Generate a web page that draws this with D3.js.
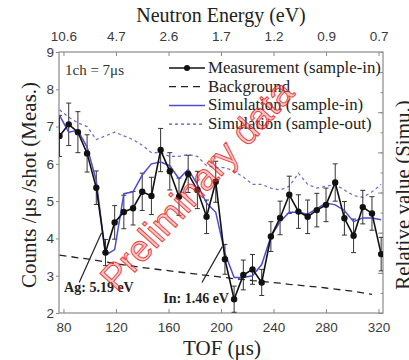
<!DOCTYPE html>
<html>
<head>
<meta charset="utf-8">
<script src="https://cdn.jsdelivr.net/npm/d3@7/dist/d3.min.js"></script>
<style>
  html, body { margin: 0; padding: 0; background: #fff; }
  svg { display: block; }
</style>
</head>
<body>
<svg id="chart" width="409" height="360"></svg>
<script>
// Time-of-flight channels (1 ch = 7 μs)
const tof = [77, 84, 91, 98, 105, 112, 119, 126, 133, 140, 147, 154, 161, 168, 175, 182, 189, 196,
             203, 210, 217, 224, 231, 238, 245, 252, 259, 266, 273, 280, 287, 294, 301, 308, 315, 322];

// Measured counts per μs per shot (sample-in) and their uncertainties
const measured = [6.75, 7.06, 6.85, 6.28, 5.36, 3.62, 4.43, 4.71, 4.81, 5.25, 5.14, 6.37, 5.80, 5.12, 5.73, 5.30, 4.58, 5.52,
                  3.44, 2.37, 3.02, 3.17, 2.82, 4.05, 4.55, 5.17, 4.72, 4.58, 4.76, 4.90, 5.50, 4.54, 4.07, 4.84, 4.67, 3.58];
const measErr  = [0.55, 0.57, 0.55, 0.50, 0.45, 0.35, 0.45, 0.45, 0.45, 0.50, 0.50, 0.58, 0.50, 0.50, 0.50, 0.50, 0.45, 0.55,
                  0.40, 0.35, 0.40, 0.40, 0.35, 0.40, 0.45, 0.50, 0.45, 0.45, 0.45, 0.45, 0.50, 0.45, 0.45, 0.45, 0.45, 0.45];

// Background estimate
const background = [3.55, 3.52, 3.48, 3.45, 3.41, 3.37, 3.33, 3.29, 3.26, 3.22, 3.19, 3.16, 3.13, 3.10, 3.07, 3.04, 3.01, 2.98,
                    2.95, 2.92, 2.90, 2.87, 2.85, 2.82, 2.80, 2.77, 2.75, 2.72, 2.70, 2.67, 2.64, 2.61, 2.58, 2.54, 2.50];

// Simulated spectra
const simIn  = [7.30, 6.85, 6.90, 6.45, 5.55, 3.55, 3.70, 5.20, 5.25, 5.70, 6.00, 6.05, 5.95, 5.60, 5.85, 5.45, 4.95, 4.70,
                3.60, 2.95, 2.95, 3.00, 3.30, 4.05, 4.45, 4.70, 4.70, 4.65, 4.80, 4.95, 4.90, 4.75, 4.45, 4.55, 4.55, 4.50];
const simOut = [7.45, 7.25, 7.10, 7.00, 6.65, 6.75, 6.85, 6.75, 6.65, 6.50, 6.30, 6.30, 6.20, 6.20, 6.25, 6.20, 5.95, 5.90,
                5.90, 5.80, 5.65, 5.45, 5.45, 5.35, 5.30, 5.40, 5.75, 5.45, 5.35, 5.40, 5.45, 5.30, 5.15, 5.10, 5.25, 5.45];

// Axis ticks
const tofTicks = [80, 120, 160, 200, 240, 280, 320];
const energyLabels = ["10.6", "4.7", "2.6", "1.7", "1.2", "0.9", "0.7"];
const countTicks = [2, 3, 4, 5, 6, 7, 8, 9];

// Resonance annotations: label position and pointer line (μs, counts)
const resonances = [
  { label: "Ag: 5.19 eV", tx: 80.5, ty: 2.55, from: [92, 2.82], to: [109, 4.15] },
  { label: "In: 1.46 eV", tx: 156, ty: 2.28, from: [185.5, 2.82], to: [201, 3.78] }
];

const legendItems = [
  { label: "Measurement (sample-in)", kind: "meas" },
  { label: "Background", kind: "bg" },
  { label: "Simulation (sample-in)", kind: "simIn" },
  { label: "Simulation (sample-out)", kind: "simOut" }
];

const serif = "'Liberation Serif', 'Times New Roman', Times, serif";
const sans = "'Liberation Sans', Arial, Helvetica, sans-serif";
const blue = "#4d4dd2";
const frame = "#8a8a8a";

const svg = d3.select("#chart");
const plot = { left: 59, right: 383, top: 52, bottom: 313 };

const x = d3.scaleLinear().domain([76.6, 323.4]).range([plot.left, plot.right]);
const y = d3.scaleLinear().domain([2, 9]).range([plot.bottom, plot.top]);
const yRight = d3.scaleLinear().domain([0, 6.5]).range([plot.bottom, plot.top]);

// Frame
svg.append("rect")
  .attr("x", plot.left).attr("y", plot.top)
  .attr("width", plot.right - plot.left).attr("height", plot.bottom - plot.top)
  .attr("fill", "none").attr("stroke", frame).attr("stroke-width", 1.2);

function styleAxis(g) {
  g.select(".domain").remove();
  g.selectAll(".tick line").attr("stroke", frame).attr("stroke-width", 1);
  g.selectAll(".tick text").attr("fill", "#3a3a3a").style("font-family", sans).style("font-size", "13.5px");
}

// Bottom TOF axis
svg.append("g")
  .attr("transform", `translate(0,${plot.bottom})`)
  .call(d3.axisBottom(x).tickValues(tofTicks).tickSize(-4).tickPadding(9).tickFormat(d3.format("d")))
  .call(styleAxis);

// Top neutron-energy axis
svg.append("g")
  .attr("transform", `translate(0,${plot.top})`)
  .call(d3.axisTop(x).tickValues(tofTicks).tickSize(-4).tickPadding(11)
        .tickFormat((d, i) => energyLabels[i]))
  .call(styleAxis);

// Left counts axis
svg.append("g")
  .attr("transform", `translate(${plot.left},0)`)
  .call(d3.axisLeft(y).tickValues(countTicks).tickSize(3).tickPadding(2).tickFormat(d3.format("d")))
  .call(styleAxis);

// Right relative-value axis (ticks only)
svg.append("g")
  .attr("transform", `translate(${plot.right},0)`)
  .call(d3.axisRight(yRight).ticks(7).tickSize(-5).tickFormat(""))
  .call(styleAxis);
svg.append("g")
  .attr("transform", `translate(${plot.right},0)`)
  .call(d3.axisRight(yRight).ticks(13).tickSize(-2.5).tickFormat(""))
  .call(styleAxis);

// Axis titles
svg.append("text")
  .attr("x", 221).attr("y", 22)
  .attr("text-anchor", "middle")
  .style("font-family", serif).style("font-size", "20px").attr("fill", "#222")
  .text("Neutron Energy (eV)");

svg.append("text")
  .attr("x", 222).attr("y", 355)
  .attr("text-anchor", "middle")
  .style("font-family", serif).style("font-size", "21px").attr("fill", "#222")
  .text("TOF (μs)");

svg.append("text")
  .attr("transform", "translate(36,185) rotate(-90)")
  .attr("text-anchor", "middle")
  .style("font-family", serif).style("font-size", "21px").attr("fill", "#222")
  .text("Counts /μs /shot (Meas.)");

svg.append("text")
  .attr("transform", "translate(410,195) rotate(-90)")
  .attr("text-anchor", "middle")
  .style("font-family", serif).style("font-size", "21px").attr("fill", "#222")
  .text("Relative value (Simu.)");

// Series, clipped to the plot frame
svg.append("clipPath").attr("id", "plotClip")
  .append("rect")
  .attr("x", plot.left).attr("y", plot.top)
  .attr("width", plot.right - plot.left).attr("height", plot.bottom - plot.top);

const layer = svg.append("g").attr("clip-path", "url(#plotClip)");
const line = d3.line().x(d => x(d[0])).y(d => y(d[1]));

layer.append("path")
  .datum(background.map((v, i) => [tof[i], v]))
  .attr("d", line)
  .attr("fill", "none").attr("stroke", "#222").attr("stroke-width", 1.3)
  .attr("stroke-dasharray", "7,5");

layer.append("path")
  .datum(simOut.map((v, i) => [tof[i], v]))
  .attr("d", line)
  .attr("fill", "none").attr("stroke", blue).attr("stroke-width", 1.2)
  .attr("stroke-dasharray", "3,3").attr("opacity", 0.85);

// Error bars
const eb = layer.append("g").attr("stroke", "#333").attr("stroke-width", 1);
measured.forEach((v, i) => {
  const cx = x(tof[i]);
  const y0 = y(v - measErr[i]), y1 = y(v + measErr[i]);
  eb.append("line").attr("x1", cx).attr("x2", cx).attr("y1", y0).attr("y2", y1);
  eb.append("line").attr("x1", cx - 2.5).attr("x2", cx + 2.5).attr("y1", y0).attr("y2", y0);
  eb.append("line").attr("x1", cx - 2.5).attr("x2", cx + 2.5).attr("y1", y1).attr("y2", y1);
});

layer.append("path")
  .datum(simIn.map((v, i) => [tof[i], v]))
  .attr("d", line)
  .attr("fill", "none").attr("stroke", blue).attr("stroke-width", 1.5);

layer.append("path")
  .datum(measured.map((v, i) => [tof[i], v]))
  .attr("d", line)
  .attr("fill", "none").attr("stroke", "#111").attr("stroke-width", 1.6);

layer.selectAll("circle.meas")
  .data(measured)
  .join("circle")
  .attr("class", "meas")
  .attr("cx", (d, i) => x(tof[i]))
  .attr("cy", d => y(d))
  .attr("r", 3.2)
  .attr("fill", "#111");

// Resonance annotations
resonances.forEach(r => {
  svg.append("line")
    .attr("x1", x(r.from[0])).attr("y1", y(r.from[1]))
    .attr("x2", x(r.to[0])).attr("y2", y(r.to[1]))
    .attr("stroke", "#222").attr("stroke-width", 1.2);
  svg.append("text")
    .attr("x", x(r.tx)).attr("y", y(r.ty))
    .style("font-family", serif).style("font-size", "14px").style("font-weight", "bold")
    .attr("fill", "#222")
    .text(r.label);
});

// Channel width note
svg.append("text")
  .attr("x", 65).attr("y", 75)
  .style("font-family", serif).style("font-size", "15px").attr("fill", "#333")
  .text("1ch = 7μs");

// Legend
const legend = svg.append("g");
legendItems.forEach((item, i) => {
  const ly = 68 + i * 18.7;
  const g = legend.append("g");
  const l = g.append("line")
    .attr("x1", 169).attr("x2", 205).attr("y1", ly).attr("y2", ly);
  if (item.kind === "meas") {
    l.attr("stroke", "#111").attr("stroke-width", 1.6);
    g.append("circle").attr("cx", 187).attr("cy", ly).attr("r", 3).attr("fill", "#111");
  } else if (item.kind === "bg") {
    l.attr("stroke", "#222").attr("stroke-width", 1.3).attr("stroke-dasharray", "7,5");
  } else if (item.kind === "simIn") {
    l.attr("stroke", blue).attr("stroke-width", 1.5);
  } else {
    l.attr("stroke", blue).attr("stroke-width", 1.2).attr("stroke-dasharray", "3,3");
  }
  g.append("text")
    .attr("x", 208).attr("y", ly + 5)
    .style("font-family", serif).style("font-size", "16.8px").attr("fill", "#222")
    .text(item.label);
});

// Watermark
svg.append("text")
  .attr("transform", "translate(197,185) rotate(-48)")
  .attr("text-anchor", "middle")
  .attr("dominant-baseline", "central")
  .style("font-family", sans).style("font-size", "37px")
  .attr("fill", "rgba(255,90,90,0.35)")
  .attr("stroke", "rgba(225,30,30,0.85)").attr("stroke-width", 1)
  .text("Preliminary data");
</script>
</body>
</html>
